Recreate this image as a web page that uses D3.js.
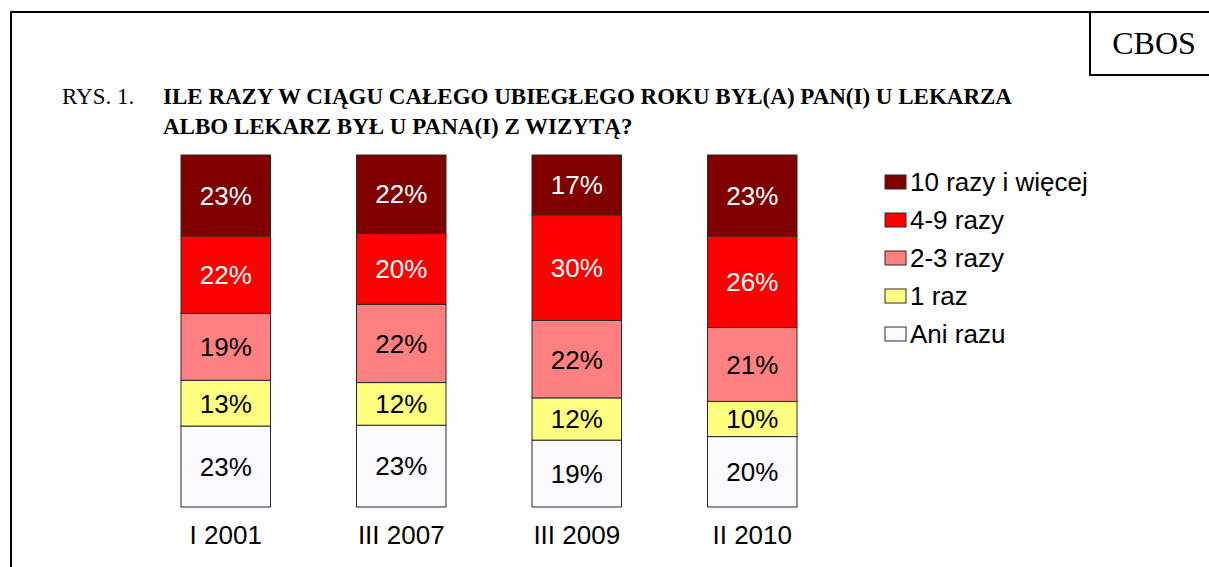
<!DOCTYPE html>
<html>
<head>
    <meta charset="utf-8" />
    <title>CBOS - wizyty u lekarza</title>
    <style>
        body { margin: 0; background: #fff; }
        svg { display: block; }
        text.title { font-family: "Liberation Serif", "Times New Roman", serif; font-size: 23px; }
        text.val, text.cat, text.leg { font-family: "Liberation Sans", Arial, sans-serif; font-size: 26px; }
    </style>
    <script src="https://d3js.org/d3.v7.min.js"></script>
</head>
<body>
<script>

// data
let categories = ["I 2001", "III 2007", "III 2009", "II 2010"];
let series = ["Ani razu", "1 raz", "2-3 razy", "4-9 razy", "10 razy i więcej"];
let aniRazu   = [23, 23, 19, 20];
let jedenRaz  = [13, 12, 12, 10];
let dwaTrzy   = [19, 22, 22, 21];
let czteryDziewiec = [22, 20, 30, 26];
let dziesiecWiecej = [23, 22, 17, 23];
let colors = ["#fafaff", "#ffff80", "#ff8080", "#ff0000", "#800000"];
let textColors = ["#000", "#000", "#000", "#fff", "#fff"];

let W = 1209, H = 567;

let rows = categories.map((c, i) => ({
    cat: c,
    "Ani razu": aniRazu[i],
    "1 raz": jedenRaz[i],
    "2-3 razy": dwaTrzy[i],
    "4-9 razy": czteryDziewiec[i],
    "10 razy i więcej": dziesiecWiecej[i]
}));

let svg = d3.select("body").append("svg")
    .attr("width", W)
    .attr("height", H);

// frame
svg.append("path")
    .attr("d", "M11,567 V12 H1209")
    .attr("fill", "none")
    .attr("stroke", "#000")
    .attr("stroke-width", 2);

svg.append("rect")
    .attr("x", 1090).attr("y", 12)
    .attr("width", 130).attr("height", 63)
    .attr("fill", "none")
    .attr("stroke", "#000")
    .attr("stroke-width", 2);

svg.append("text")
    .attr("class", "title")
    .attr("x", 1154).attr("y", 54)
    .attr("text-anchor", "middle")
    .style("font-size", "32px")
    .text("CBOS");

// title
svg.append("text")
    .attr("class", "title")
    .attr("x", 62).attr("y", 104)
    .text("RYS. 1.");

let t = svg.append("text")
    .attr("class", "title")
    .attr("font-weight", "bold");
t.append("tspan").attr("x", 163).attr("y", 104)
    .text("ILE RAZY W CIĄGU CAŁEGO UBIEGŁEGO ROKU BYŁ(A) PAN(I) U LEKARZA");
t.append("tspan").attr("x", 163).attr("y", 134)
    .text("ALBO LEKARZ BYŁ U PANA(I) Z WIZYTĄ?");

// scales
let x = d3.scaleBand()
    .domain(categories)
    .range([138, 840])
    .paddingInner(0.49)
    .paddingOuter(0.245);

let y = d3.scaleLinear()
    .domain([0, 1])
    .range([507, 155]);

let stack = d3.stack()
    .keys(series)
    .offset(d3.stackOffsetExpand);

let layers = stack(rows);

let g = svg.append("g");

let layer = g.selectAll("g.layer")
    .data(layers)
    .enter()
    .append("g")
    .attr("class", "layer");

layer.selectAll("rect")
    .data((d, i) => d.map(p => ({ p: p, i: i })))
    .enter()
    .append("rect")
    .attr("x", d => x(d.p.data.cat))
    .attr("y", d => y(d.p[1]))
    .attr("width", x.bandwidth())
    .attr("height", d => y(d.p[0]) - y(d.p[1]))
    .attr("fill", d => colors[d.i])
    .attr("stroke", "#2a2a2a")
    .attr("stroke-width", 1);

layer.selectAll("text")
    .data((d, i) => d.map(p => ({ p: p, i: i, key: d.key })))
    .enter()
    .append("text")
    .attr("class", "val")
    .attr("x", d => x(d.p.data.cat) + x.bandwidth() / 2)
    .attr("y", d => (y(d.p[0]) + y(d.p[1])) / 2)
    .attr("dy", "0.36em")
    .attr("text-anchor", "middle")
    .attr("fill", d => textColors[d.i])
    .text(d => d.p.data[d.key] + "%");

// category labels
g.selectAll("text.cat")
    .data(categories)
    .enter()
    .append("text")
    .attr("class", "cat")
    .attr("x", d => x(d) + x.bandwidth() / 2)
    .attr("y", 544)
    .attr("text-anchor", "middle")
    .text(d => d);

// legend
let legendOrder = series.slice().reverse();
let leg = svg.selectAll("g.legend")
    .data(legendOrder)
    .enter()
    .append("g")
    .attr("class", "legend")
    .attr("transform", (d, i) => "translate(885," + (175 + i * 38) + ")");

leg.append("rect")
    .attr("width", 21)
    .attr("height", 14)
    .attr("fill", d => colors[series.indexOf(d)])
    .attr("stroke", "#2a2a2a")
    .attr("stroke-width", 1);

leg.append("text")
    .attr("class", "leg")
    .attr("x", 25)
    .attr("y", 16)
    .text(d => d);

</script>
</body>
</html>
